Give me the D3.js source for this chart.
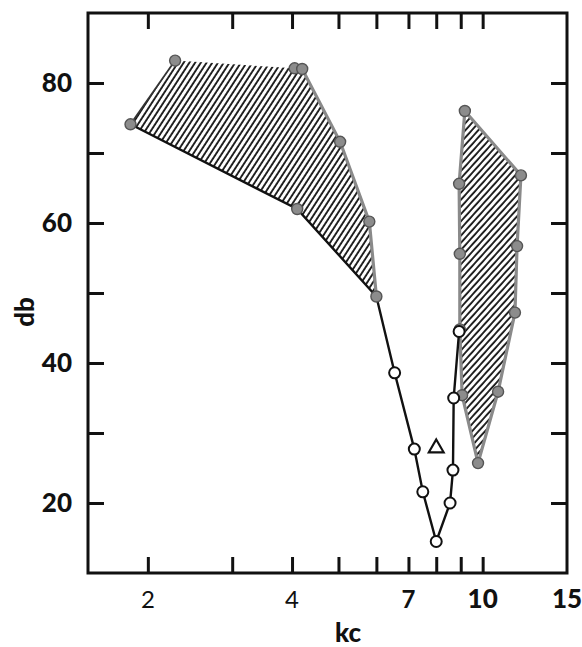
<!DOCTYPE html>
<html>
<head>
<meta charset="utf-8">
<script src="https://cdn.jsdelivr.net/npm/d3@7"></script>
<style>
  body { margin: 0; background: #fff; }
  svg { display: block; }
</style>
</head>
<body>
<div id="chart"></div>
<script>
// values (kc on log axis, db linear)
const kcMain = [1.84, 4.1, 6.0, 6.55, 7.2, 7.5, 8.0, 8.55, 8.67, 8.7, 8.93];
const dbMain = [74.1, 62, 49.5, 38.6, 27.7, 21.6, 14.5, 20, 24.7, 35, 44.5];
const openFrom = 3; // open circles start at this index of the main curve

const kcUpperL = [1.84, 2.28, 4.05, 4.2, 5.04, 5.8, 6.0];
const dbUpperL = [74.1, 83.2, 82.1, 82.0, 71.6, 60.2, 49.5];

const kcBandR = [9.18, 12.02, 11.8, 11.68, 10.77, 9.78, 9.06, 8.96, 8.96, 8.93];
const dbBandR = [76, 66.8, 56.7, 47.2, 35.9, 25.7, 35.4, 44.8, 55.6, 65.6];

const kcTri = [8.0];
const dbTri = [28];

const xTicks = [2, 3, 4, 5, 6, 7, 8, 9, 10];
const xLabels = [2, 4, 7, 10, 15];
const yTicks = [20, 30, 40, 50, 60, 70, 80];
const yLabels = [20, 40, 60, 80];

const W = 582, H = 647;
const L = 88, R = 567, T = 13, B = 573;

const x = d3.scaleLog().domain([1.5, 15]).range([L, R]);
const y = d3.scaleLinear().domain([10, 90]).range([B, T]);

const svg = d3.select('#chart').append('svg')
  .attr('width', W).attr('height', H)
  .style('font-family', 'Lato, "DejaVu Sans", sans-serif');

// hatch patterns
const defs = svg.append('defs');
function hatch(id, ang) {
  const p = defs.append('pattern').attr('id', id)
    .attr('patternUnits', 'userSpaceOnUse')
    .attr('width', 4.8).attr('height', 10)
    .attr('patternTransform', `rotate(${ang})`);
  p.append('line').attr('x1', 1).attr('x2', 1).attr('y1', 0).attr('y2', 10)
    .attr('stroke', '#111').attr('stroke-width', 1.8);
}
hatch('hatchL', 33);
hatch('hatchR', 42);

const pts = (xs, ys) => xs.map((d, i) => [x(d), y(ys[i])]);
const line = d3.line();

// left shaded band: upper edge + lower main curve back
const upL = pts(kcUpperL, dbUpperL);
const loL = pts(kcMain.slice(0, 3), dbMain.slice(0, 3)).reverse();
svg.append('path').attr('d', line(upL.concat(loL)) + 'Z')
  .attr('fill', 'url(#hatchL)').attr('stroke', 'none');
svg.append('path').attr('d', line(upL.slice(2)))
  .attr('fill', 'none').attr('stroke', '#8a8a8a').attr('stroke-width', 3.2);
svg.append('path').attr('d', line(upL.slice(0, 2)))
  .attr('fill', 'none').attr('stroke', '#333').attr('stroke-width', 1.8);

// right shaded band
const bandR = pts(kcBandR, dbBandR);
svg.append('path').attr('d', line(bandR) + 'Z')
  .attr('fill', 'url(#hatchR)')
  .attr('stroke', '#8a8a8a').attr('stroke-width', 3.2).attr('stroke-linejoin', 'round');

// main curve
svg.append('path').attr('d', line(pts(kcMain, dbMain)))
  .attr('fill', 'none').attr('stroke', '#111').attr('stroke-width', 2.4);

// gray filled points
const grayPts = upL.concat([[x(kcMain[1]), y(dbMain[1])]], bandR);
svg.selectAll('.gp').data(grayPts).join('circle')
  .attr('cx', d => d[0]).attr('cy', d => d[1]).attr('r', 5.5)
  .attr('fill', '#8c8c8c').attr('stroke', '#555').attr('stroke-width', 1.4);

// open circles
svg.selectAll('.op').data(pts(kcMain, dbMain).slice(openFrom)).join('circle')
  .attr('cx', d => d[0]).attr('cy', d => d[1]).attr('r', 5.5)
  .attr('fill', '#fff').attr('stroke', '#111').attr('stroke-width', 2);

// open triangle
svg.selectAll('.tri').data(pts(kcTri, dbTri)).join('path')
  .attr('d', d3.symbol(d3.symbolTriangle, 95))
  .attr('transform', d => `translate(${d[0]},${d[1] + 1})`)
  .attr('fill', 'none').attr('stroke', '#111').attr('stroke-width', 2.2);

// inward ticks on all four sides
const tl = 16;
const styleAx = g => {
  g.select('.domain').remove();
  g.selectAll('.tick line').attr('stroke', '#111').attr('stroke-width', 3);
  g.selectAll('.tick text').remove();
};
svg.append('g').attr('transform', `translate(0,${B})`)
  .call(d3.axisBottom(x).tickValues(xTicks).tickSize(-tl)).call(styleAx);
svg.append('g').attr('transform', `translate(0,${T})`)
  .call(d3.axisTop(x).tickValues(xTicks).tickSize(-tl)).call(styleAx);
svg.append('g').attr('transform', `translate(${L},0)`)
  .call(d3.axisLeft(y).tickValues(yTicks).tickSize(-tl)).call(styleAx);
svg.append('g').attr('transform', `translate(${R},0)`)
  .call(d3.axisRight(y).tickValues(yTicks).tickSize(-tl)).call(styleAx);

// frame
svg.append('rect').attr('x', L).attr('y', T).attr('width', R - L).attr('height', B - T)
  .attr('fill', 'none').attr('stroke', '#111').attr('stroke-width', 3);

// tick labels
svg.selectAll('.xl').data(xLabels).join('text')
  .attr('x', d => x(d)).attr('y', 608)
  .attr('text-anchor', 'middle')
  .attr('font-size', d => d >= 10 ? 26 : 24)
  .attr('font-weight', d => d >= 10 ? 900 : d === 7 ? 700 : 400)
  .attr('fill', '#111')
  .text(d => d);

svg.selectAll('.yl').data(yLabels).join('text')
  .attr('x', 72).attr('y', d => y(d) + 9)
  .attr('text-anchor', 'end')
  .attr('font-size', 26).attr('font-weight', 900).attr('fill', '#111')
  .text(d => d);

// axis titles
svg.append('text').attr('x', 348).attr('y', 642)
  .attr('text-anchor', 'middle').attr('font-size', 26).attr('font-weight', 900)
  .attr('fill', '#111').text('kc');
svg.append('text').attr('transform', 'translate(34,312) rotate(-90)')
  .attr('text-anchor', 'middle').attr('font-size', 26).attr('font-weight', 900)
  .attr('fill', '#111').text('db');
</script>
</body>
</html>
